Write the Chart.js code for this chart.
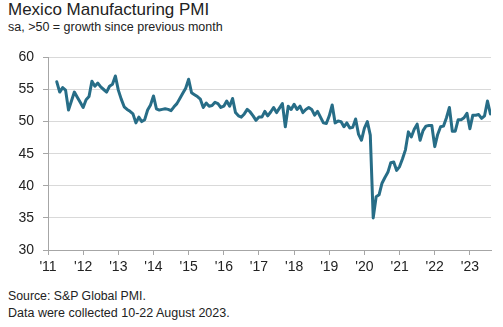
<!DOCTYPE html>
<html>
<head>
<meta charset="utf-8">
<script src="https://cdn.jsdelivr.net/npm/chart.js@4.4.0/dist/chart.umd.min.js"></script>
<style>
  body { margin: 0; background: #fff; font-family: "Liberation Sans", Arial, sans-serif; color: #222; }
  #wrap { position: relative; width: 503px; height: 327px; overflow: hidden; }
  .txt { position: absolute; left: 8px; white-space: nowrap; }
  #title { top: 0px; font-size: 17px; }
  #sub { top: 20px; font-size: 12.5px; }
  #src { top: 289px; font-size: 12.3px; }
  #note { top: 306px; font-size: 12.5px; }
  #box { position: absolute; left: 0; top: 40px; width: 503px; height: 248px; }
</style>
</head>
<body>
<div id="wrap">
  <div class="txt" id="title">Mexico Manufacturing PMI</div>
  <div class="txt" id="sub">sa, &gt;50 = growth since previous month</div>
  <div id="box"><canvas id="pmiChart"></canvas></div>
  <div class="txt" id="src">Source: S&amp;P Global PMI.</div>
  <div class="txt" id="note">Data were collected 10-22 August 2023.</div>
</div>
<script>
// series starts April 2011, one value per month
const firstYear = 2011;
const firstMonth = 4;
const pmi2011 = [56.2, 54.6, 55.3, 54.9, 51.8, 53.2, 54.6, 53.8, 53.0];
const pmi2012 = [52.2, 53.4, 53.9, 56.3, 55.5, 56.0, 55.4, 55.0, 54.6, 55.5, 55.8, 57.1];
const pmi2013 = [54.9, 53.5, 52.3, 51.9, 51.6, 51.2, 49.8, 50.7, 50.0, 50.3, 51.8, 52.6];
const pmi2014 = [54.0, 52.0, 51.8, 51.9, 52.0, 51.9, 51.7, 52.3, 52.8, 53.6, 54.4, 55.2];
const pmi2015 = [56.6, 54.5, 54.2, 53.9, 53.5, 52.2, 52.9, 52.4, 52.5, 53.0, 52.8, 52.2];
const pmi2016 = [52.4, 53.2, 52.4, 53.6, 51.4, 50.9, 50.7, 51.2, 51.9, 51.5, 50.9, 50.2];
const pmi2017 = [50.7, 50.7, 51.6, 50.9, 51.5, 52.2, 51.4, 52.1, 52.8, 49.2, 52.4, 51.9];
const pmi2018 = [52.7, 51.9, 52.4, 51.4, 51.9, 52.2, 51.9, 51.0, 51.6, 50.7, 49.8, 49.7];
const pmi2019 = [50.9, 52.6, 49.8, 50.1, 50.0, 49.2, 49.8, 49.0, 49.1, 50.4, 48.0, 47.1];
const pmi2020 = [49.0, 50.0, 47.9, 35.0, 38.3, 38.6, 40.4, 41.3, 42.1, 43.6, 43.7, 42.4];
const pmi2021 = [43.0, 44.2, 45.6, 48.4, 47.6, 48.8, 49.6, 47.1, 48.6, 49.3, 49.4, 49.4];
const pmi2022 = [46.1, 48.0, 49.2, 49.3, 50.6, 52.2, 48.5, 48.5, 50.3, 50.3, 50.6, 51.3];
const pmi2023 = [48.9, 51.0, 51.0, 51.1, 50.5, 50.9, 53.2, 51.2];
const yearTicks = [2011, 2012, 2013, 2014, 2015, 2016, 2017, 2018, 2019, 2020, 2021, 2022, 2023];
const yTicks = [30, 35, 40, 45, 50, 55, 60];

const allValues = [].concat(pmi2011, pmi2012, pmi2013, pmi2014, pmi2015, pmi2016, pmi2017,
  pmi2018, pmi2019, pmi2020, pmi2021, pmi2022, pmi2023);

const points = allValues.map((v, i) => ({
  x: firstYear + (firstMonth - 1 + i) / 12,
  y: v
}));

const data = {
  datasets: [{
    data: points,
    borderColor: '#276d87',
    borderWidth: 3,
    pointRadius: 0,
    tension: 0,
    borderJoinStyle: 'round',
    borderCapStyle: 'round'
  }]
};

const options = {
  responsive: true,
  maintainAspectRatio: false,
  animation: false,
  layout: { padding: { top: 8, right: 12, left: 0, bottom: 0 } },
  plugins: { legend: { display: false }, tooltip: { enabled: false } },
  scales: {
    x: {
      type: 'linear',
      min: 2011,
      max: 2023.6,
      afterBuildTicks: axis => { axis.ticks = yearTicks.map(v => ({ value: v })); },
      afterFit: axis => { axis.height = 38; },
      grid: { drawOnChartArea: false, drawTicks: true, tickLength: 5, color: '#a6a6a6' },
      border: { color: '#a6a6a6', width: 1 },
      ticks: {
        color: '#222',
        font: { family: 'Liberation Sans', size: 14 },
        padding: 4,
        maxRotation: 0,
        autoSkip: false,
        callback: v => "'" + String(v).slice(2)
      }
    },
    y: {
      min: 30,
      max: 60,
      afterBuildTicks: axis => { axis.ticks = yTicks.map(v => ({ value: v })); },
      afterFit: axis => { axis.width = 48; },
      grid: { color: '#d9d9d9', tickColor: '#a6a6a6', tickLength: 5, lineWidth: 1 },
      border: { color: '#a6a6a6', width: 1 },
      ticks: {
        color: '#222',
        font: { family: 'Liberation Sans', size: 14 },
        padding: 9
      }
    }
  }
};

new Chart('pmiChart', { type: 'line', data, options });
</script>
</body>
</html>
